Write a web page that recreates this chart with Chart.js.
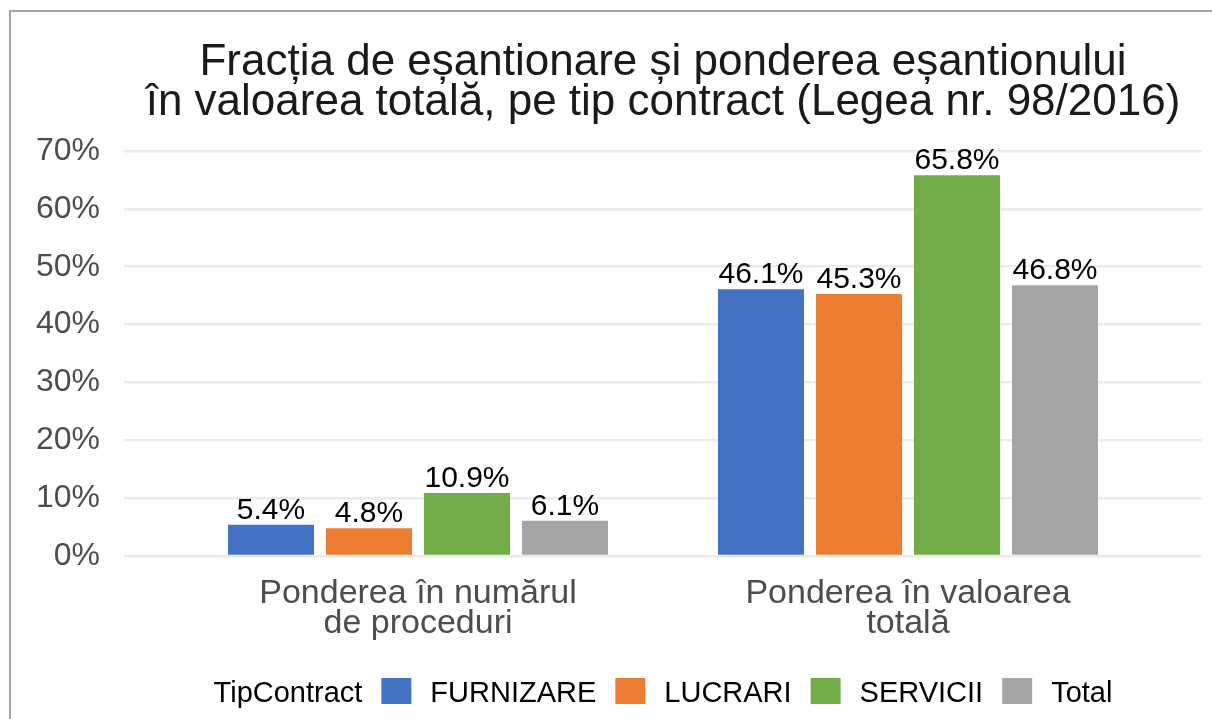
<!DOCTYPE html>
<html>
<head>
<meta charset="utf-8">
<script src="https://cdn.jsdelivr.net/npm/chart.js@4"></script>
<style>
  html, body { margin: 0; padding: 0; background: #fff; overflow: hidden; }
  #frame {
    position: absolute; left: 9px; top: 10px;
    width: 1220px; height: 720px;
    border-left: 2px solid #a6a6a6; border-top: 2px solid #a6a6a6;
  }
  #myChart { position: absolute; left: 0; top: 0; }
</style>
</head>
<body>
<div id="frame"><canvas id="myChart" width="1201" height="707"></canvas></div>
<script>
// date din grafic
var categories = [['Ponderea în numărul', 'de proceduri'], ['Ponderea în valoarea', 'totală']];
var seriesNames = ['FURNIZARE', 'LUCRARI', 'SERVICII', 'Total'];
var furnizare = [5.4, 46.1];
var lucrari = [4.8, 45.3];
var servicii = [10.9, 65.8];
var total = [6.1, 46.8];
var seriesColors = ['#4472C4', '#ED7D31', '#70AD47', '#A5A5A5'];
var yMax = 70;
var yStep = 10;
var legendTitle = 'TipContract';

var FONT = '"Liberation Sans", Arial, sans-serif';
Chart.defaults.font.family = FONT;

function toPoints(values) {
    return values.map(function(v, i) { return { x: i, y: v }; });
}

var allSeries = [furnizare, lucrari, servicii, total];
var datasets = allSeries.map(function(values, i) {
    return {
        label: seriesNames[i],
        data: toPoints(values),
        backgroundColor: seriesColors[i],
        categoryPercentage: 0.8,
        barPercentage: 0.878
    };
});

// etichete cu valori deasupra barelor
var valueLabels = {
    id: 'valueLabels',
    afterDatasetsDraw: function(chart) {
        var ctx = chart.ctx;
        ctx.save();
        ctx.font = '30px ' + FONT;
        ctx.fillStyle = '#000';
        ctx.textAlign = 'center';
        ctx.textBaseline = 'alphabetic';
        chart.data.datasets.forEach(function(ds, di) {
            chart.getDatasetMeta(di).data.forEach(function(bar, i) {
                ctx.fillText(ds.data[i].y.toFixed(1) + '%', bar.x, bar.y - 6);
            });
        });
        ctx.restore();
    }
};

// legenda pe un singur rand, cu titlul in stanga
var inlineLegend = {
    id: 'inlineLegend',
    afterDraw: function(chart) {
        var ctx = chart.ctx;
        var area = chart.chartArea;
        var gap = 19, boxW = 30, boxH = 26;
        ctx.save();
        ctx.font = '29px ' + FONT;
        var totalW = ctx.measureText(legendTitle).width;
        chart.data.datasets.forEach(function(ds) {
            totalW += gap + boxW + gap + ctx.measureText(ds.label).width;
        });
        var x = (area.left + area.right) / 2 - totalW / 2;
        var baseY = 690;
        ctx.fillStyle = '#000';
        ctx.textBaseline = 'alphabetic';
        ctx.fillText(legendTitle, x, baseY);
        x += ctx.measureText(legendTitle).width + gap;
        chart.data.datasets.forEach(function(ds) {
            ctx.fillStyle = ds.backgroundColor;
            ctx.fillRect(x, 666, boxW, boxH);
            x += boxW + gap;
            ctx.fillStyle = '#000';
            ctx.fillText(ds.label, x, baseY);
            x += ctx.measureText(ds.label).width + gap;
        });
        ctx.restore();
    }
};

var ctx = document.getElementById('myChart').getContext('2d');
var myChart = new Chart(ctx, {
    type: 'bar',
    data: { datasets: datasets },
    options: {
        responsive: false,
        animation: false,
        layout: { padding: { left: 0, right: 10, top: 0, bottom: 0 } },
        plugins: {
            legend: { display: false },
            tooltip: { enabled: false },
            title: {
                display: true,
                fullSize: false,
                text: ['Fracția de eșantionare și ponderea eșantionului',
                       'în valoarea totală, pe tip contract (Legea nr. 98/2016)'],
                color: '#1a1a1a',
                font: { size: 44, weight: 'normal', lineHeight: 40 / 44 },
                padding: { top: 31, bottom: 28 }
            }
        },
        scales: {
            x: {
                type: 'linear',
                offset: false,
                min: -0.6,
                max: categories.length - 1 + 0.6,
                grid: { display: false },
                border: { display: false },
                afterBuildTicks: function(scale) {
                    scale.ticks = categories.map(function(c, i) { return { value: i }; });
                },
                ticks: {
                    autoSkip: false,
                    maxRotation: 0,
                    padding: 15,
                    color: '#4d4d4d',
                    font: { size: 34, lineHeight: 30 / 34 },
                    callback: function(v) { return categories[v] || ''; }
                },
                afterFit: function(scale) { scale.height = 163; }
            },
            y: {
                min: 0,
                max: yMax,
                grid: { color: '#ebebeb', lineWidth: 2.5, drawTicks: false },
                border: { display: false },
                ticks: {
                    stepSize: yStep,
                    padding: 24,
                    color: '#4d4d4d',
                    font: { size: 32 },
                    callback: function(v) { return v + '%'; }
                },
                afterFit: function(scale) { scale.width = 113; }
            }
        }
    },
    plugins: [valueLabels, inlineLegend]
});
</script>
</body>
</html>
